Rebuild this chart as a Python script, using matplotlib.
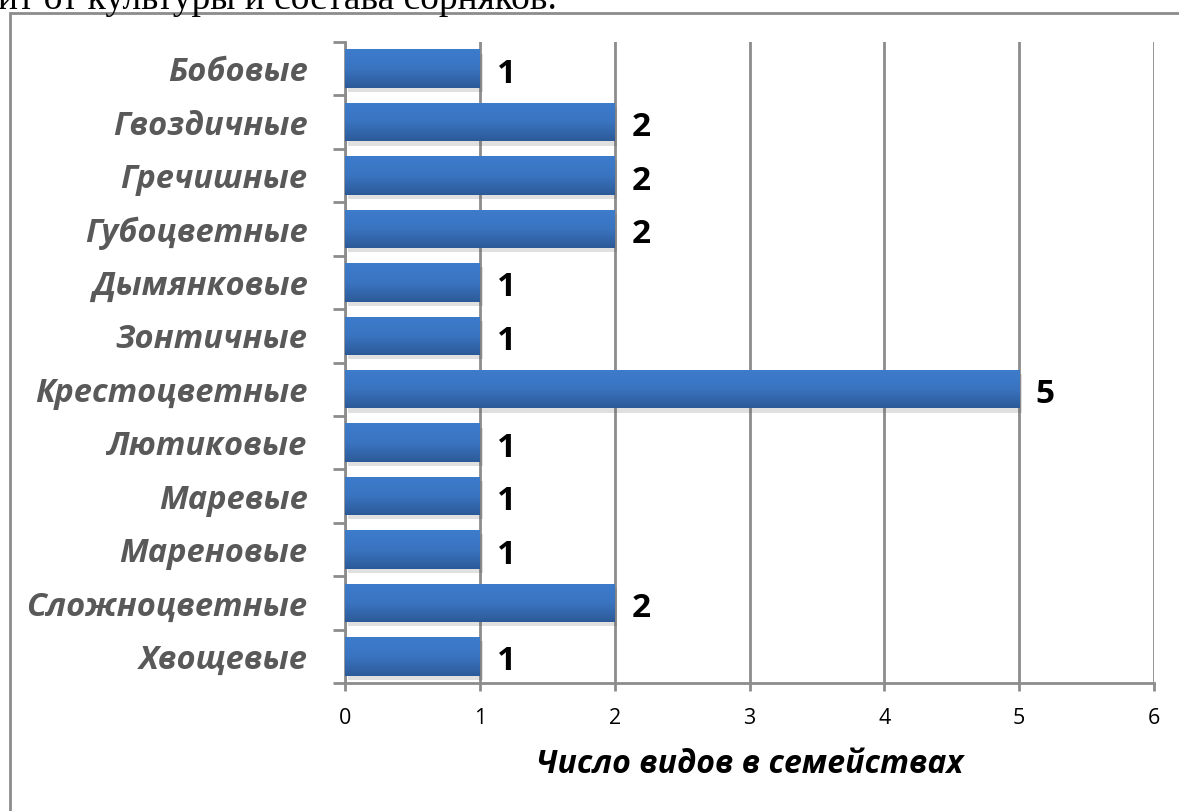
import numpy as np
import matplotlib
matplotlib.use("Agg")
import matplotlib.pyplot as plt
import matplotlib.patheffects as pe
from matplotlib.patches import Rectangle
from matplotlib.colors import LinearSegmentedColormap

families = ["Бобовые", "Гвоздичные", "Гречишные", "Губоцветные", "Дымянковые",
            "Зонтичные", "Крестоцветные", "Лютиковые", "Маревые", "Мареновые",
            "Сложноцветные", "Хвощевые"]
counts = [1, 2, 2, 2, 1, 1, 5, 1, 1, 1, 2, 1]
xticks = [0, 1, 2, 3, 4, 5, 6]
xlabel = "Число видов в семействах"
header = "ит от культуры и состава сорняков."

W, H = 1179, 811
fig = plt.figure(figsize=(W / 100, H / 100), dpi=100)
ax = fig.add_axes([345 / W, 1 - 683 / H, (1154 - 345) / W, (683 - 42) / H])

# text line from the page above the chart, cut at the top
fig.text(-2 / W, 1 - 9 / H, header, family="Liberation Serif", fontsize=27,
         color="black", ha="left", va="baseline")

# chart frame (continues past right and bottom edges)
fig.patches.append(Rectangle((10 / W, -0.2), 1.5, 1.2 - 13 / H, transform=fig.transFigure,
                             fill=False, edgecolor="#8c8c8c", linewidth=2))

y = np.arange(len(families))
bars = ax.barh(y, counts, height=0.72, color="#3a72bb", zorder=3,
               path_effects=[pe.SimplePatchShadow(offset=(2, -3), alpha=0.18, shadow_rgbFace="#555555"),
                             pe.Normal()])

# vertical gradient on each bar
cmap = LinearSegmentedColormap.from_list("bar", ["#3d7ccc", "#3a74c0", "#2c5a98"])
grad = np.linspace(0, 1, 256).reshape(-1, 1)
for b in bars:
    x0, y0 = b.get_x(), b.get_y()
    w, h = b.get_width(), b.get_height()
    im = ax.imshow(grad, cmap=cmap, aspect="auto", extent=(x0, x0 + w, y0 + h, y0),
                   zorder=4, interpolation="bicubic")
    im.set_clip_path(b)

for yi, c in zip(y, counts):
    ax.annotate(str(c), (c, yi), xytext=(12, -4), textcoords="offset points",
                ha="left", va="center", fontsize=24, fontweight="bold",
                family="Open Sans", color="black")

ax.set_xlim(0, 6)
ax.set_ylim(len(families) - 0.5, -0.5)
ax.set_xticks(xticks)
ax.set_xticklabels([str(t) for t in xticks], family="Open Sans", fontsize=15.5)
ax.grid(axis="x", color="#8c8c8c", linewidth=2, zorder=0)
ax.set_axisbelow(True)

ax.set_yticks(np.arange(-0.5, len(families)), minor=False)
ax.set_yticklabels([])
ax.set_yticks(y, minor=True)
ax.set_yticklabels(families, minor=True, family="Open Sans", fontsize=23.5,
                   fontweight="bold", fontstyle="italic", color="#595959")
ax.tick_params(axis="y", which="major", length=9, width=2, color="#8c8c8c")
ax.tick_params(axis="y", which="minor", length=0, pad=27)
ax.tick_params(axis="x", length=6, width=2, color="#8c8c8c", pad=12)

for s in ["top", "right"]:
    ax.spines[s].set_visible(False)
for s in ["left", "bottom"]:
    ax.spines[s].set_color("#8c8c8c")
    ax.spines[s].set_linewidth(2)

ax.set_xlabel(xlabel, family="Open Sans", fontsize=23, fontweight="bold",
              fontstyle="italic", color="black", labelpad=14)

fig.savefig("out.png", dpi=100)
